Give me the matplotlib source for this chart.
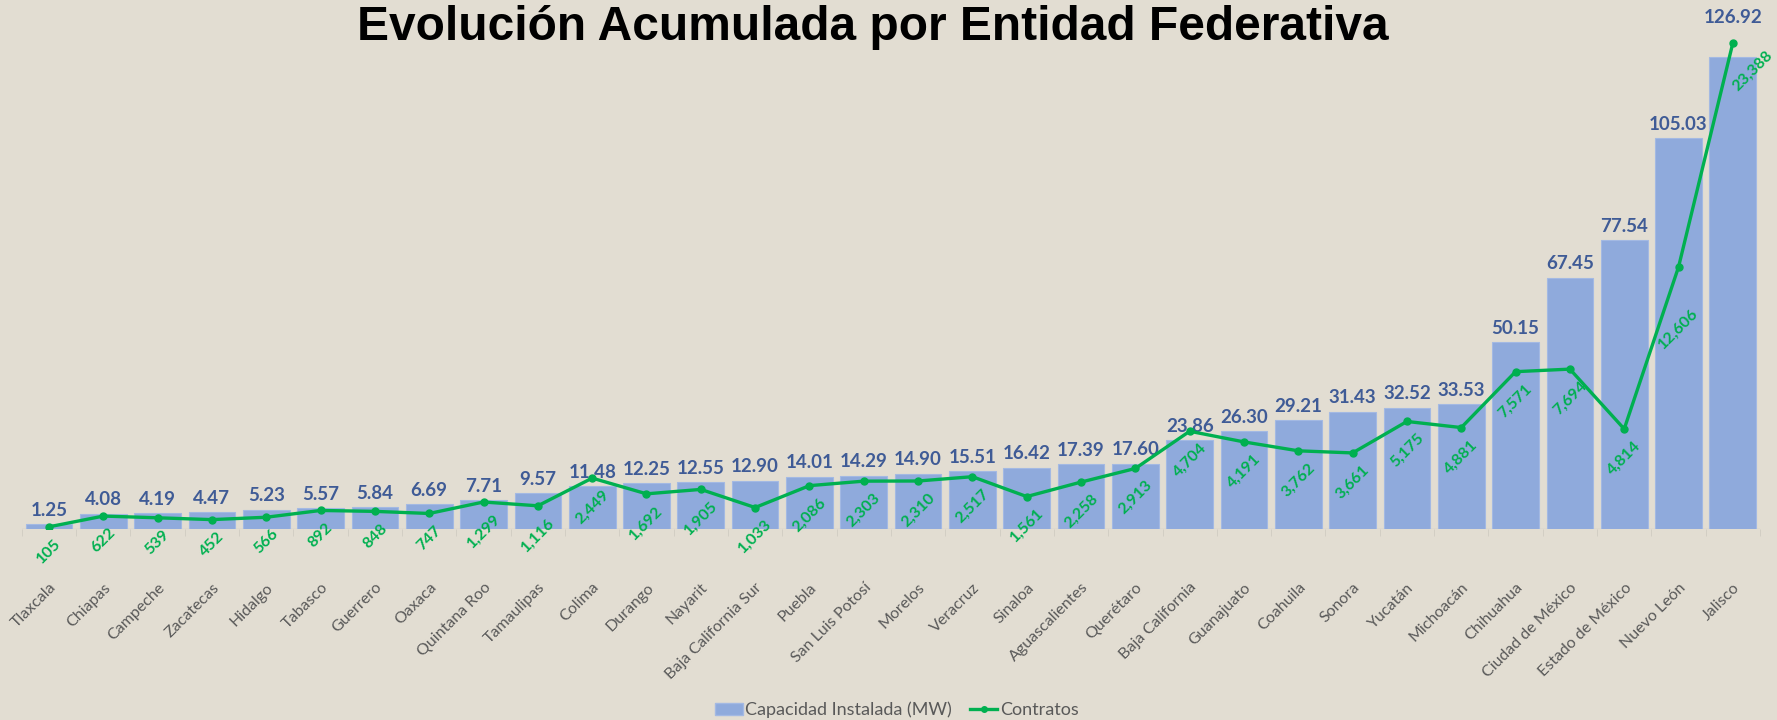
import numpy as np
import matplotlib
matplotlib.use("Agg")
import matplotlib.pyplot as plt
from matplotlib.lines import Line2D
from matplotlib.patches import Patch

plt.rcParams['font.family'] = ['Lato', 'DejaVu Sans']

# Data
states = ["Tlaxcala", "Chiapas", "Campeche", "Zacatecas", "Hidalgo", "Tabasco",
          "Guerrero", "Oaxaca", "Quintana Roo", "Tamaulipas", "Colima", "Durango",
          "Nayarit", "Baja California Sur", "Puebla", "San Luis Potosí", "Morelos",
          "Veracruz", "Sinaloa", "Aguascalientes", "Querétaro", "Baja California",
          "Guanajuato", "Coahuila", "Sonora", "Yucatán", "Michoacán", "Chihuahua",
          "Ciudad de México", "Estado de México", "Nuevo León", "Jalisco"]
capacity = [1.25, 4.08, 4.19, 4.47, 5.23, 5.57, 5.84, 6.69, 7.71, 9.57, 11.48,
            12.25, 12.55, 12.90, 14.01, 14.29, 14.90, 15.51, 16.42, 17.39, 17.60,
            23.86, 26.30, 29.21, 31.43, 32.52, 33.53, 50.15, 67.45, 77.54, 105.03,
            126.92]
contracts = [105, 622, 539, 452, 566, 892, 848, 747, 1299, 1116, 2449, 1692,
             1905, 1033, 2086, 2303, 2310, 2517, 1561, 2258, 2913, 4704, 4191,
             3762, 3661, 5175, 4881, 7571, 7694, 4814, 12606, 23388]

bg = '#e2ddd2'
bar_color = '#8faadc'
blue_txt = '#3f5b96'
green = '#00b050'
gray_txt = '#595959'

W, H = 1777, 720
fig = plt.figure(figsize=(W / 100, H / 100), dpi=100, facecolor=bg)
ax = fig.add_axes([21.85 / W, (H - 529) / H, (1760 - 21.85) / W, (529 - 30) / H])
ax.set_facecolor(bg)
ax2 = ax.twinx()

x = np.arange(len(states))
ax.bar(x, capacity, width=0.86, color=bar_color, edgecolor='#a3b9e3', linewidth=0.8, zorder=2)
ax.set_xlim(-0.5, len(states) - 0.5)
ax.set_ylim(0, 134.1)
ax2.set_ylim(0, 24013)

# bar value labels
for i, v in enumerate(capacity):
    off = 22 if i == len(states) - 1 else 4
    ax.annotate(f"{v:.2f}", (i, v), xytext=(0, off), textcoords='offset points',
                ha='center', va='bottom', fontsize=13.5, fontweight='bold',
                color=blue_txt, zorder=5)

# contracts line
ax2.plot(x, contracts, color=green, lw=2.4, marker='o', markersize=5, zorder=4)
special = {30: (0, -28), 31: (14, -4)}
for i, c in enumerate(contracts):
    dx, dy = special.get(i, (0, -7))
    ax2.annotate(f"{c:,}", (i, c), xytext=(dx, dy), textcoords='offset points',
                 ha='center', va='top', rotation=45, fontsize=11.5,
                 fontweight='bold', color=green, zorder=5)

for a in (ax, ax2):
    for s in a.spines.values():
        s.set_visible(False)
    a.set_yticks([])

ax.axhline(0, color='#d0ccc2', lw=1, zorder=1)
ax.set_xticks(x)
ax.set_xticklabels(states, rotation=45, ha='right', rotation_mode='anchor',
                   fontsize=11.5, color=gray_txt)
ax.tick_params(axis='x', which='major', length=0, pad=37)
ax.set_xticks(np.arange(-0.5, len(states), 1), minor=True)
ax.tick_params(axis='x', which='minor', length=5, color='#d0ccc2')

fig.text(873 / W, 1 - 28 / H, "Evolución Acumulada por Entidad Federativa",
         ha='center', va='center', fontsize=34.5, fontweight='bold',
         family='Liberation Sans', color='black')

handles = [Patch(facecolor=bar_color, edgecolor='#a3b9e3'),
           Line2D([0], [0], color=green, lw=2.4, marker='o', markersize=4)]
fig.legend(handles, ["Capacidad Instalada (MW)", "Contratos"], loc='center',
           bbox_to_anchor=(897 / W, 1 - 710 / H), ncol=2, frameon=False,
           fontsize=13, labelcolor=gray_txt, handlelength=1.5, handletextpad=0.15,
           columnspacing=1.0)

fig.savefig('out.png', dpi=100, facecolor=bg)
